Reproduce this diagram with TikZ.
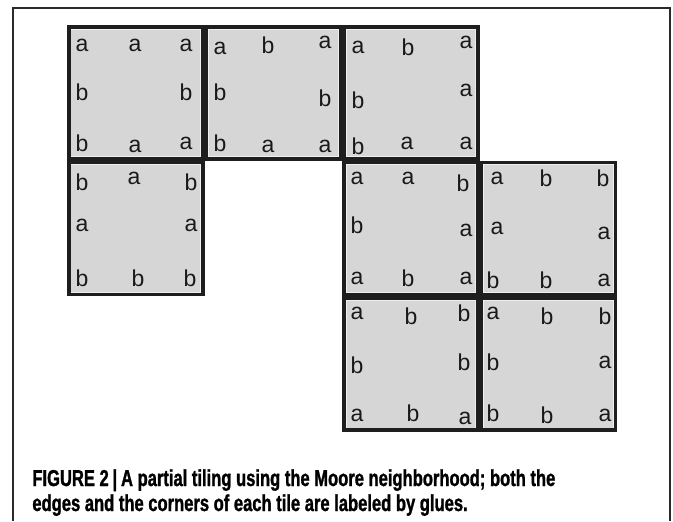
\documentclass[tikz,border=0pt]{standalone}
\usepackage{fontspec}
\usepackage{xcolor}
\usepackage{tikz}
\usetikzlibrary{positioning}
\newfontfamily\gluefont{Liberation Sans}
\newfontfamily\capfont[FakeStretch=0.72,FakeBold=1.2]{Liberation Sans}
\definecolor{TileFill}{HTML}{D6D6D6}
\definecolor{TileEdge}{HTML}{1E1E1E}
\definecolor{TileRim}{HTML}{EFEFEF}
\definecolor{Frame}{HTML}{2A2A2A}
\tikzset{
  tile/.style={draw=TileEdge,fill=TileFill,line width=1.75pt,minimum width=67pt,minimum height=66pt,inner sep=0pt,
    path picture={\draw[TileRim,line width=.5pt] ([shift={(1.1pt,-1.1pt)}]path picture bounding box.north west) rectangle ([shift={(-1.1pt,1.1pt)}]path picture bounding box.south east);}},
  glue/.style={font=\gluefont\fontsize{11.5}{13}\selectfont,text=black!90,inner sep=0pt},
  caption/.style={font=\capfont\bfseries\fontsize{11.5}{13}\selectfont,inner sep=0pt,anchor=base west},
  frame/.style={draw=Frame,line width=.7pt}
}
\begin{document}
\begin{tikzpicture}[x=.5pt,y=-.5pt]
  \useasboundingbox (0,0) rectangle (673,521);
  \draw[frame] (13,521) -- (13,8) -- (670,8) -- (670,521);
  % tiles
  \node[tile] (r1c1) at (135.75,92.85) {};
  \node[tile] (r1c2) at (273.25,92.85) {};
  \node[tile] (r1c3) at (411,92.85) {};
  \node[tile] (r2c1) at (135.75,228.5) {};
  \node[tile] (r2c3) at (411,228.5) {};
  \node[tile] (r2c4) at (548.5,228.5) {};
  \node[tile] (r3c3) at (411,364.2) {};
  \node[tile] (r3c4) at (548.5,364.2) {};
  % glues
  \foreach \x/\y/\g [count=\i] in {
    82/45/a, 135/45/a, 186/45/a, 82/92/b, 186/92/b, 82/143/b, 135/146/a, 186/143/a,
    220/48/a, 268/45/b, 325/42/a, 220/92/b, 325/98/b, 220/143/b, 268/146/a, 325/146/a,
    358/47/a, 408/47/b, 466/42/a, 358/100/b, 466/90/a, 358/146/b, 407/143/a, 466/143/a,
    82/182/b, 134/178/a, 191/182/b, 82/225/a, 191/225/a, 82/278/b, 138/278/b, 190/278/b,
    357/178/a, 408/178/a, 463/183/b, 357/225/b, 466/230/a, 357/278/a, 408/278/b, 466/278/a,
    497/178/a, 546/178/b, 603/178/b, 497/228/a, 604/233/a, 493/280/b, 546/280/b, 604/280/a,
    357/313/a, 411/316/b, 464/313/b, 357/365/b, 464/362/b, 357/415/a, 413/413/b, 465/418/a,
    493/313/a, 547/316/b, 605/316/b, 493/362/b, 605/362/a, 493/413/b, 547/415/b, 605/415/a}
    \node[glue] (g\i) at (\x,\y) {\g};
  \node[caption] (cap1) at (32,486) {FIGURE 2\,|\,A partial tiling using the Moore neighborhood; both the};
  \node[caption] (cap2) at (32,511) {edges and the corners of each tile are labeled by glues.};
\end{tikzpicture}
\end{document}
